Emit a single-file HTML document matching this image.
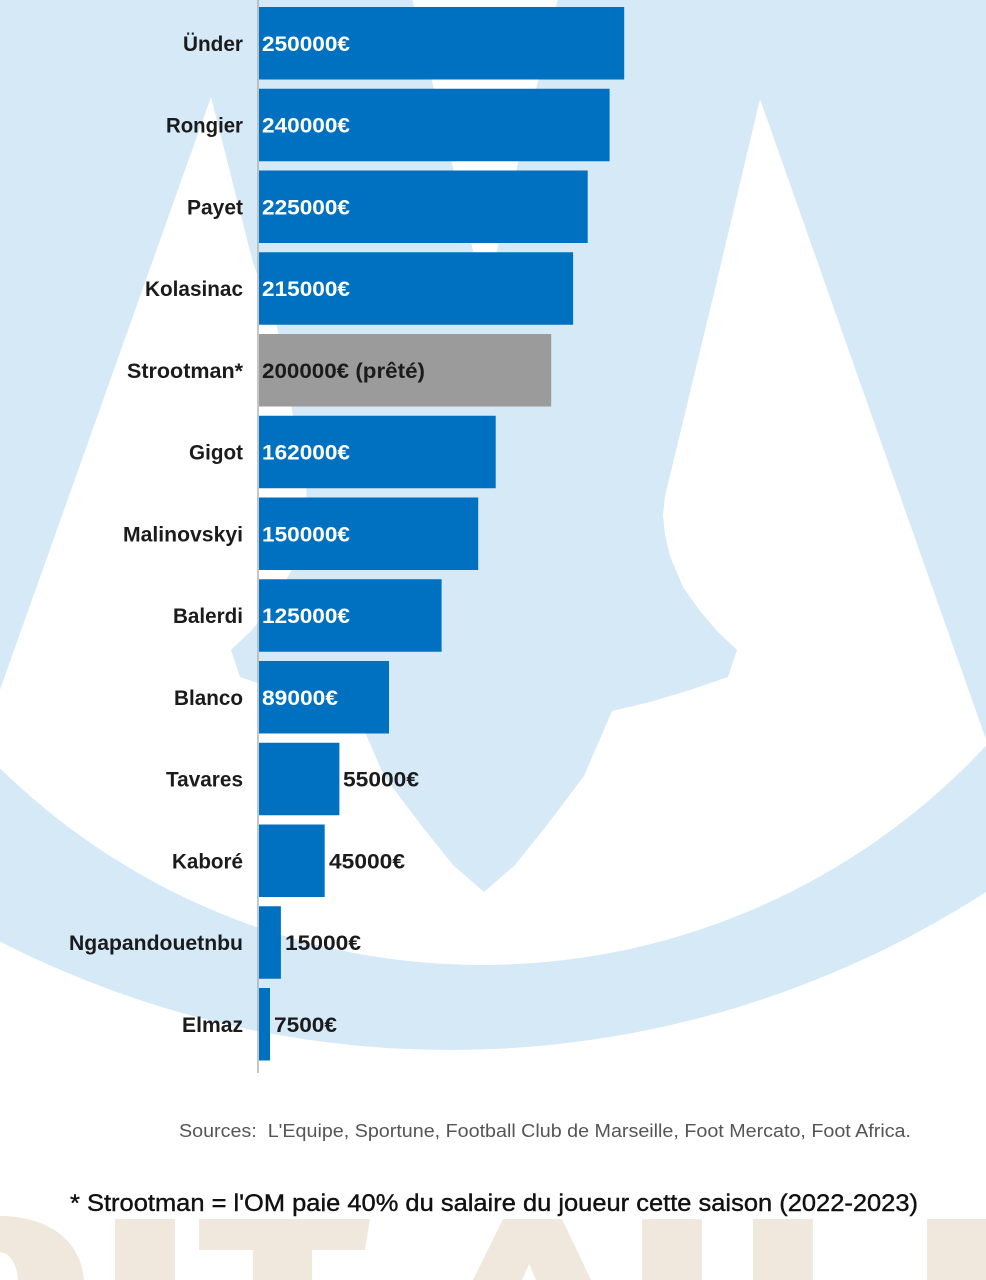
<!DOCTYPE html>
<html>
<head>
<meta charset="utf-8">
<style>
html,body{margin:0;padding:0;background:#fff;}
svg{display:block;}
text{font-family:"Liberation Sans",Arial,sans-serif;}
</style>
</head>
<body>
<svg width="986" height="1280" viewBox="0 0 986 1280" xmlns="http://www.w3.org/2000/svg">
<defs>
  <clipPath id="ic"><circle cx="482" cy="276" r="689"/></clipPath>
</defs>
<rect width="986" height="1280" fill="#ffffff"/>

<!-- light blue watermark logo -->
<circle cx="450" cy="62" r="988" fill="#d5e9f7"/>
<path clip-path="url(#ic)" fill="#ffffff" d="M211,97 L-40,802 L-40,1100 L1030,1100 L1030,864 L760,99 L715,289 L665,496 L663,515 L665,535 L670,556 L683,587 L700,611 L718,632 L737,650 L728,677 L690,690 L650,702 L612,711 L603,732 L584,776 L547,825 L515,865 L484,892 L453,865 L421,825 L384,776 L365,732 L356,711 L318,702 L278,690 L240,677 L231,650 L250,632 L268,611 L290,573 L302,545 L307,510 L306,480 L292,410 L277,326 L253,263 Z"/>
<polygon points="410,-10 560,-10 485,300" fill="#ffffff"/>

<!-- beige watermark letters -->
<g fill="#f1e8dd">
  <path d="M0,1216 C40,1216 80,1234 84,1280 L18,1280 C17,1264 10,1253 0,1252 Z"/>
  <rect x="115" y="1219" width="60" height="61"/>
  <polygon points="199,1219 370,1219 365,1250 199,1250"/>
  <rect x="253" y="1249" width="59" height="31"/>
  <polygon points="503,1219 562,1219 591,1280 536,1280 529,1264 522,1280 473,1280"/>
  <rect x="642" y="1219" width="60" height="61"/>
  <rect x="753" y="1219" width="60" height="61"/>
  <rect x="927" y="1219" width="59" height="61"/>
</g>

<!-- axis -->
<line x1="258" y1="0" x2="258" y2="1073" stroke="#b3b3b3" stroke-width="1.5"/>

<!-- bars -->
<g fill="#0070c0">
  <rect x="259" y="7" width="365.2" height="72.5"/>
  <rect x="259" y="88.75" width="350.6" height="72.5"/>
  <rect x="259" y="170.5" width="328.7" height="72.5"/>
  <rect x="259" y="252.25" width="314.1" height="72.5"/>
  <rect x="259" y="415.75" width="236.7" height="72.5"/>
  <rect x="259" y="497.5" width="219.2" height="72.5"/>
  <rect x="259" y="579.25" width="182.6" height="72.5"/>
  <rect x="259" y="661" width="130" height="72.5"/>
  <rect x="259" y="742.75" width="80.4" height="72.5"/>
  <rect x="259" y="824.5" width="65.7" height="72.5"/>
  <rect x="259" y="906.25" width="21.9" height="72.5"/>
  <rect x="259" y="988" width="11" height="72.5"/>
</g>
<rect x="259" y="334" width="292.2" height="72.5" fill="#9b9b9b"/>

<!-- category labels -->
<g font-size="21" font-weight="bold" fill="#1b1b1b" text-anchor="end">
  <text x="243" y="50.75" textLength="60" lengthAdjust="spacingAndGlyphs">Ünder</text>
  <text x="243" y="132.5" textLength="77" lengthAdjust="spacingAndGlyphs">Rongier</text>
  <text x="243" y="214.25" textLength="56" lengthAdjust="spacingAndGlyphs">Payet</text>
  <text x="243" y="296" textLength="98" lengthAdjust="spacingAndGlyphs">Kolasinac</text>
  <text x="243" y="377.75" textLength="116" lengthAdjust="spacingAndGlyphs">Strootman*</text>
  <text x="243" y="459.5" textLength="54" lengthAdjust="spacingAndGlyphs">Gigot</text>
  <text x="243" y="541.25" textLength="120" lengthAdjust="spacingAndGlyphs">Malinovskyi</text>
  <text x="243" y="623" textLength="70" lengthAdjust="spacingAndGlyphs">Balerdi</text>
  <text x="243" y="704.75" textLength="69" lengthAdjust="spacingAndGlyphs">Blanco</text>
  <text x="243" y="786.5" textLength="77" lengthAdjust="spacingAndGlyphs">Tavares</text>
  <text x="243" y="868.25" textLength="71" lengthAdjust="spacingAndGlyphs">Kaboré</text>
  <text x="243" y="950" textLength="174" lengthAdjust="spacingAndGlyphs">Ngapandouetnbu</text>
  <text x="243" y="1031.75" textLength="61" lengthAdjust="spacingAndGlyphs">Elmaz</text>
</g>

<!-- value labels -->
<g font-size="21" font-weight="bold" fill="#ffffff">
  <text x="262" y="50.75" textLength="88" lengthAdjust="spacingAndGlyphs">250000€</text>
  <text x="262" y="132.5" textLength="88" lengthAdjust="spacingAndGlyphs">240000€</text>
  <text x="262" y="214.25" textLength="88" lengthAdjust="spacingAndGlyphs">225000€</text>
  <text x="262" y="296" textLength="88" lengthAdjust="spacingAndGlyphs">215000€</text>
  <text x="262" y="459.5" textLength="88" lengthAdjust="spacingAndGlyphs">162000€</text>
  <text x="262" y="541.25" textLength="88" lengthAdjust="spacingAndGlyphs">150000€</text>
  <text x="262" y="623" textLength="88" lengthAdjust="spacingAndGlyphs">125000€</text>
  <text x="262" y="704.75" textLength="76" lengthAdjust="spacingAndGlyphs">89000€</text>
</g>
<g font-size="21" font-weight="bold" fill="#1b1b1b">
  <text x="262" y="377.75" textLength="163" lengthAdjust="spacingAndGlyphs">200000€ (prêté)</text>
  <text x="343" y="786.5" textLength="76" lengthAdjust="spacingAndGlyphs">55000€</text>
  <text x="329" y="868.25" textLength="76" lengthAdjust="spacingAndGlyphs">45000€</text>
  <text x="285" y="950" textLength="76" lengthAdjust="spacingAndGlyphs">15000€</text>
  <text x="274" y="1031.75" textLength="63" lengthAdjust="spacingAndGlyphs">7500€</text>
</g>

<!-- sources -->
<text x="179" y="1137" font-size="18" fill="#555555" textLength="732" lengthAdjust="spacingAndGlyphs">Sources:&#160; L'Equipe, Sportune, Football Club de Marseille, Foot Mercato, Foot Africa.</text>

<!-- footnote -->
<text x="70" y="1211" font-size="24" fill="#111111" stroke="#111111" stroke-width="0.4" textLength="848" lengthAdjust="spacingAndGlyphs">* Strootman = l'OM paie 40% du salaire du joueur cette saison (2022-2023)</text>
</svg>
</body>
</html>
